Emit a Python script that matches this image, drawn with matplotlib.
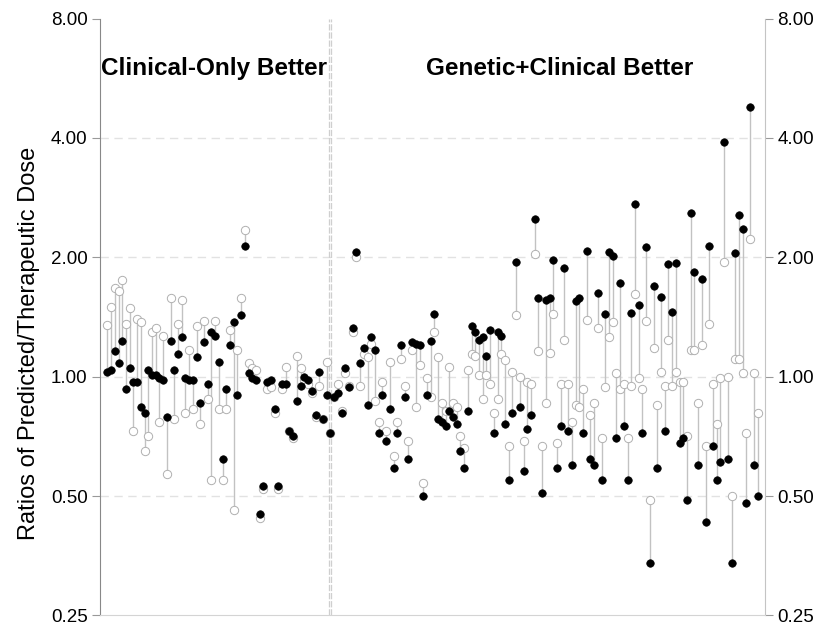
import matplotlib
matplotlib.use("Agg")
import matplotlib.pyplot as plt
import numpy as np

plt.rcParams['font.family'] = ['Liberation Sans', 'DejaVu Sans']

# ratio predicted/therapeutic dose, one pair per patient
genetic_clinical = [
    1.03, 1.04, 1.16, 1.08, 1.23, 0.93, 1.05, 0.97, 0.97, 0.84,
    0.81, 1.04, 1.01, 1.01, 0.99, 0.98, 0.79, 1.23, 1.04, 1.14,
    1.26, 0.99, 0.98, 0.98, 1.12, 0.86, 1.22, 0.96, 1.30, 1.27,
    1.09, 0.62, 0.93, 1.20, 1.37, 0.90, 1.43, 2.14, 1.02, 0.99,
    0.98, 0.45, 0.53, 0.97, 0.98, 0.83, 0.53, 0.96, 0.96, 0.73,
    0.71, 0.87, 0.95, 1.00, 0.98, 0.92, 0.80, 1.03, 0.78, 0.90,
    0.72, 0.89, 0.91, 0.81, 1.05, 0.94, 1.33, 2.06, 1.08, 1.18,
    0.85, 1.26, 1.17, 0.72, 0.90, 0.69, 0.83, 0.59, 0.72, 1.20,
    0.89, 0.62, 1.22, 1.21, 1.20, 0.50, 0.90, 1.23, 1.44, 0.78,
    0.77, 0.75, 0.82, 0.79, 0.76, 0.65, 0.59, 0.82, 1.34, 1.30,
    1.24, 1.26, 1.13, 1.31, 0.72, 1.30, 1.27, 0.76, 0.55, 0.81,
    1.95, 0.84, 0.58, 0.74, 0.80, 2.50, 1.58, 0.51, 1.56, 1.58,
    1.97, 0.59, 0.75, 1.88, 0.73, 0.60, 1.55, 1.58, 0.72, 2.08,
    0.62, 0.60, 1.63, 0.55, 1.44, 2.06, 2.02, 0.70, 1.72, 0.75,
    0.55, 1.45, 2.73, 1.52, 0.72, 2.12, 0.34, 1.69, 0.59, 1.59,
    0.73, 1.92, 1.46, 1.93, 0.68, 0.70, 0.49, 2.58, 1.84, 0.60,
    1.76, 0.43, 2.14, 0.67, 0.55, 0.61, 3.91, 0.62, 0.34, 2.05,
    2.55, 2.36, 0.48, 4.80, 0.60, 0.50,
]
clinical_only = [
    1.35, 1.50, 1.67, 1.64, 1.75, 1.36, 1.49, 0.73, 1.40, 1.37,
    0.65, 0.71, 1.30, 1.33, 0.77, 1.27, 0.57, 1.58, 0.78, 1.36,
    1.56, 0.81, 1.17, 0.83, 1.34, 0.76, 1.38, 0.88, 0.55, 1.38,
    0.83, 0.55, 0.83, 1.31, 0.46, 1.17, 1.58, 2.35, 1.08, 1.05,
    1.04, 0.44, 0.52, 0.93, 0.94, 0.81, 0.52, 0.93, 1.06, 0.73,
    0.70, 1.13, 1.05, 0.98, 0.96, 0.91, 0.79, 0.95, 0.78, 1.09,
    0.72, 0.89, 0.96, 0.82, 1.02, 0.95, 1.30, 2.00, 0.95, 1.14,
    1.12, 1.21, 0.87, 0.77, 0.97, 0.73, 1.09, 0.63, 0.77, 1.11,
    0.95, 0.69, 1.17, 0.84, 1.07, 0.54, 0.99, 0.89, 1.30, 1.12,
    0.86, 0.82, 1.06, 0.86, 0.84, 0.71, 0.66, 1.04, 1.14, 1.13,
    1.01, 0.88, 1.01, 0.96, 0.81, 0.88, 1.14, 1.10, 0.67, 1.03,
    1.43, 1.00, 0.69, 0.97, 0.96, 2.04, 1.16, 0.67, 0.86, 1.15,
    1.44, 0.68, 0.96, 1.24, 0.96, 0.77, 0.85, 0.84, 0.93, 1.39,
    0.80, 0.86, 1.33, 0.70, 0.94, 1.26, 1.37, 1.02, 0.93, 0.96,
    0.70, 0.95, 1.62, 0.99, 0.93, 1.38, 0.49, 1.18, 0.85, 1.03,
    0.95, 1.24, 0.95, 1.03, 0.97, 0.97, 0.71, 1.17, 1.17, 0.86,
    1.20, 0.67, 1.36, 0.96, 0.76, 0.99, 1.95, 1.00, 0.50, 1.11,
    1.11, 1.02, 0.72, 2.23, 1.02, 0.81,
]
n_clinical_better = 60
yticks = [0.25, 0.5, 1, 2, 4, 8]

gc = np.array(genetic_clinical)
co = np.array(clinical_only)
x = np.arange(len(gc))

fig = plt.figure(figsize=(8.14, 6.26), dpi=100)
ax = fig.add_axes([0.1229, 0.0168, 0.8169, 0.9536])

ax.set_yscale('log', base=2)
ax.set_ylim(0.25, 8)
ax.set_xlim(-2, 177)

for yv in [0.5, 1, 2, 4]:
    ax.axhline(yv, color='#e2e2e2', lw=1, ls=(0, (6, 4)), zorder=0)

for dx in (-0.3, 0.3):
    ax.axvline(n_clinical_better + dx, color='#cfcfcf', lw=0.9, ls=(0, (5, 1.5)), zorder=0)

ax.vlines(x, np.minimum(gc, co), np.maximum(gc, co), color='#c2c2c2', lw=1, zorder=1)
ax.plot(x, co, 'o', ms=6.0, mfc='white', mec='#b0b0b0', mew=0.7, ls='none', zorder=2)
ax.plot(x, gc, 'o', ms=5.4, mfc='black', mec='black', mew=0.5, ls='none', zorder=3)

ax.set_yticks(yticks)
ax.set_yticklabels(['%.2f' % v for v in yticks])
ax.yaxis.set_minor_locator(matplotlib.ticker.NullLocator())
ax.set_xticks([])
ax.tick_params(axis='y', which='major', left=True, right=True, labelleft=True,
               labelright=True, length=6, width=0.8, color='#999999',
               labelsize=13.5, pad=3)

ax.spines['top'].set_visible(False)
ax.spines['left'].set_color('#888888')
ax.spines['right'].set_color('#c4c4c4')
ax.spines['bottom'].set_color('#d4d4d4')

ax.set_ylabel('Ratios of Predicted/Therapeutic Dose', fontsize=17)
ax.yaxis.set_label_coords(-0.09, 0.455)

ax.text(-1.7, 6.0, 'Clinical-Only Better', fontsize=17.5, fontweight='bold',
        ha='left', va='center')
ax.text(121.6, 6.0, 'Genetic+Clinical Better', fontsize=17.5, fontweight='bold',
        ha='center', va='center')

fig.savefig('out.png', dpi=100)
